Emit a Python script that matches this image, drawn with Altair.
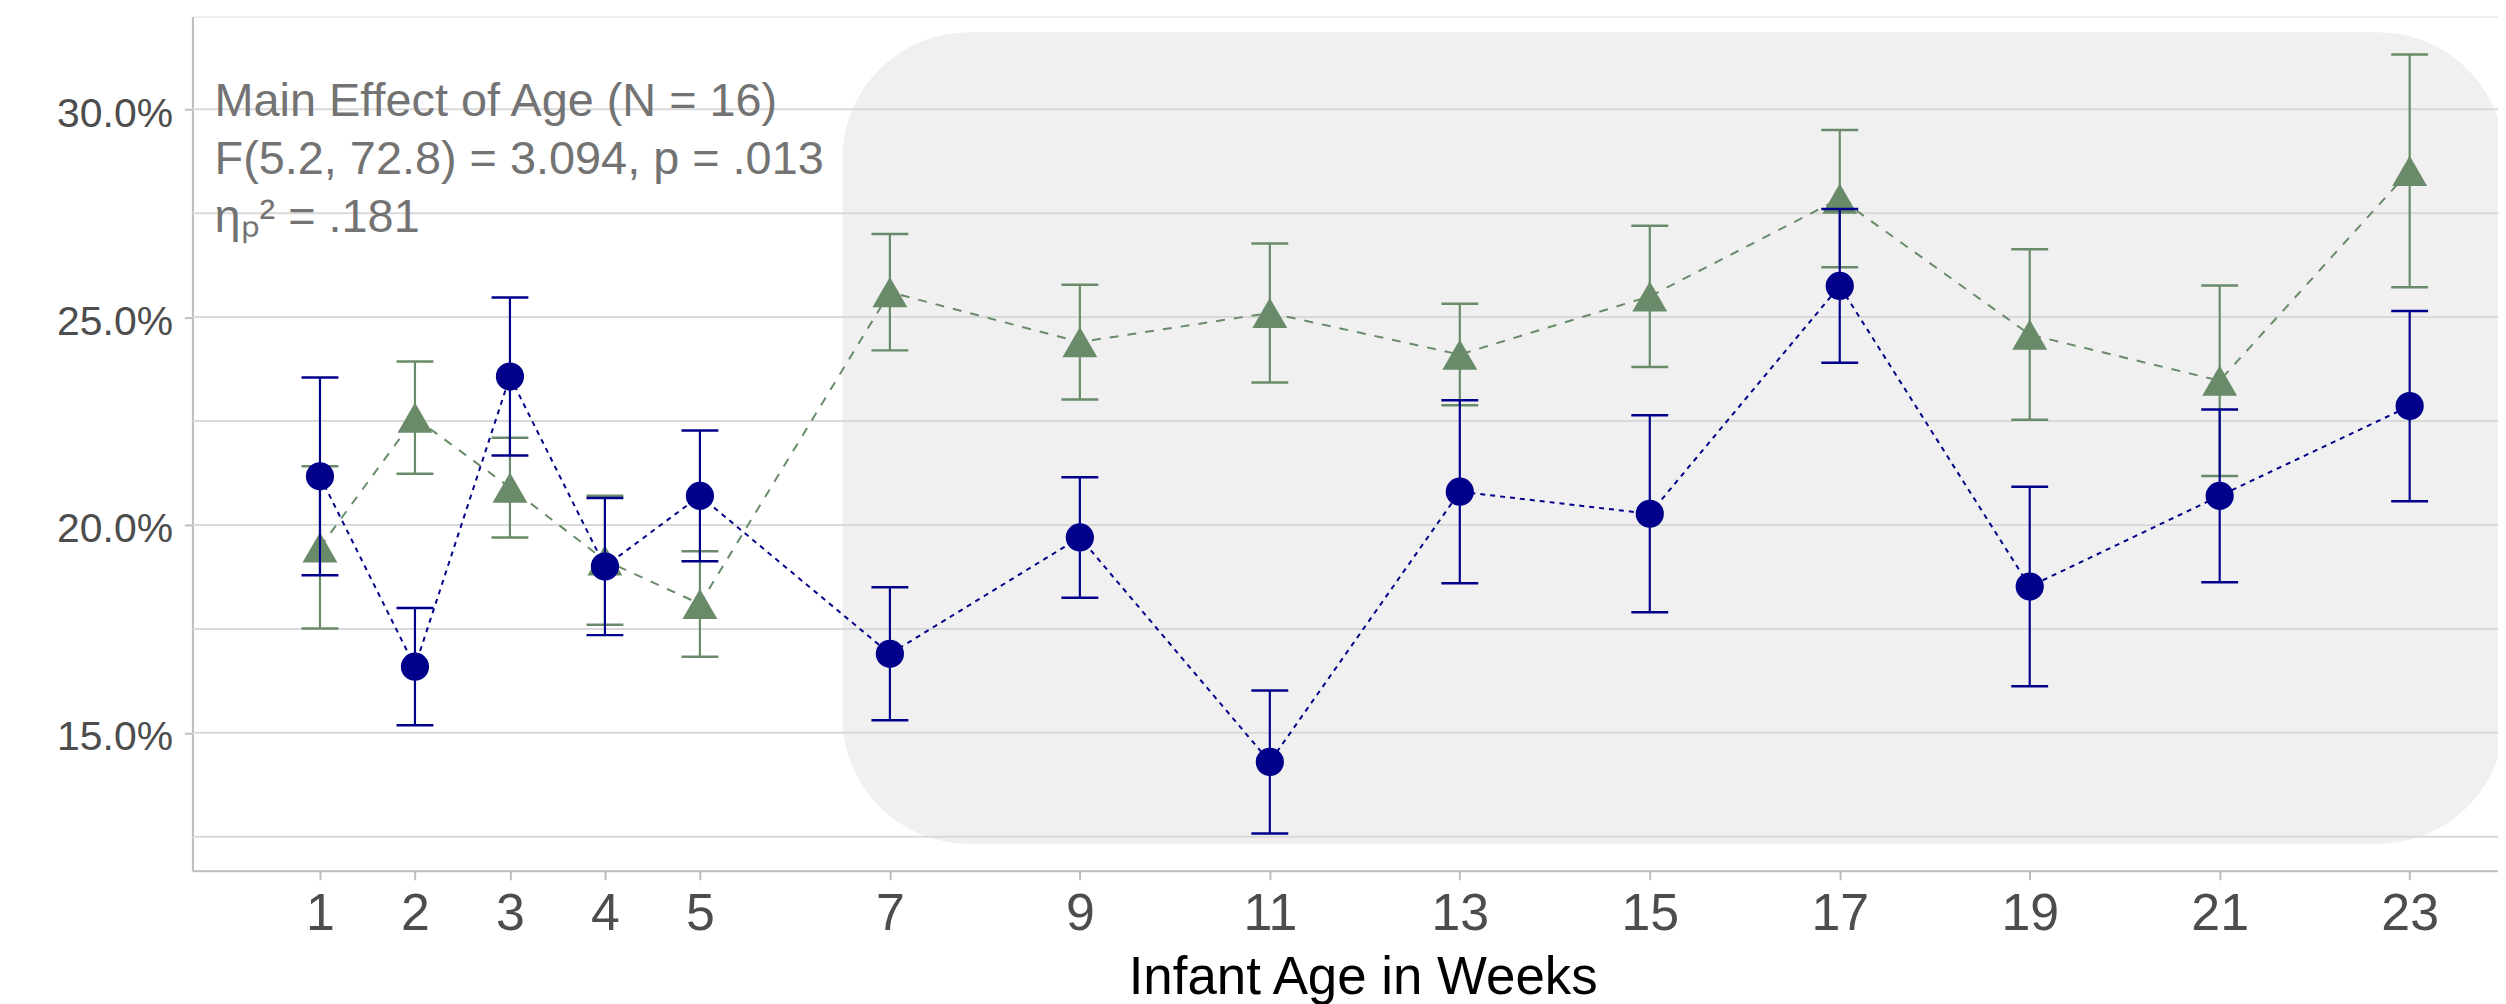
import altair as alt
import pandas as pd

# ---- data ----
weeks = [1, 2, 3, 4, 5, 7, 9, 11, 13, 15, 17, 19, 21, 23]

blue_mean = [21.17, 16.59, 23.57, 19.00, 20.70, 16.90, 19.70, 14.30, 20.80, 20.27, 25.75, 18.52, 20.70, 22.86]
blue_se = [2.38, 1.41, 1.90, 1.65, 1.57, 1.60, 1.45, 1.72, 2.20, 2.37, 1.85, 2.40, 2.08, 2.29]

green_mean = [19.46, 22.58, 20.90, 19.15, 18.10, 25.60, 24.40, 25.10, 24.10, 25.50, 27.85, 24.58, 23.47, 28.52]
green_se = [1.95, 1.35, 1.20, 1.55, 1.27, 1.40, 1.38, 1.67, 1.22, 1.70, 1.65, 2.05, 2.29, 2.80]

series_names = ["Series 1", "Series 2"]

y_tick_values = [15, 20, 25, 30]
grid_values = [12.5, 15, 17.5, 20, 22.5, 25, 27.5, 30]

highlight_weeks = [6.5, 24.0]
highlight_pct = [12.33, 31.85]

annotation_lines = [
    "Main Effect of Age (N = 16)",
    "F(5.2, 72.8) = 3.094, p = .013",
    "\u03b7\u209a\u00b2 = .181",
]
annotation_week = -0.11
annotation_pct = 29.83

x_title = "Infant Age in Weeks"

# ---- tables ----
rows = []
for name, means, ses in ((series_names[0], blue_mean, blue_se), (series_names[1], green_mean, green_se)):
    for w, m, s in zip(weeks, means, ses):
        rows.append({"group": name, "week": w, "pct": m, "lo": m - s, "hi": m + s})
df = pd.DataFrame(rows)

rect_df = pd.DataFrame({"week": [highlight_weeks[0]], "week2": [highlight_weeks[1]],
                        "pct": [highlight_pct[0]], "pct2": [highlight_pct[1]]})
grid_df = pd.DataFrame({"pct": grid_values})

FONT = "Liberation Sans"
BLUE = "#00008B"
GREEN = "#698B69"
AXIS_GRAY = "#bdbdbd"

xscale = alt.Scale(domain=[-0.343, 23.93], nice=False, zero=False)
yscale = alt.Scale(domain=[11.68, 32.23], nice=False, zero=False)

xaxis = alt.Axis(
    values=weeks, format="d", grid=False, title=x_title,
    labelFont=FONT, labelFontSize=52, labelColor="#4d4d4d", labelPadding=9,
    tickSize=9, tickColor=AXIS_GRAY, tickWidth=2,
    domainColor=AXIS_GRAY, domainWidth=2,
    titleFont=FONT, titleFontSize=53, titleFontWeight="normal", titleColor="#000000",
    titleX=1174, titleY=81, titleBaseline="top", titleAlign="center", titleAnchor="start",
)
yaxis = alt.Axis(
    values=y_tick_values, grid=False, title=None,
    labelExpr="format(datum.value, '.1f') + '%'",
    labelFont=FONT, labelFontSize=41, labelColor="#4d4d4d", labelPadding=12, labelOffset=5,
    tickSize=8, tickColor=AXIS_GRAY, tickWidth=2,
    domainColor=AXIS_GRAY, domainWidth=2,
)


def X(field):
    return alt.X(f"{field}:Q", scale=xscale, axis=xaxis, title=x_title)


def Y(field):
    return alt.Y(f"{field}:Q", scale=yscale, axis=yaxis, title=None)


rect = alt.Chart(rect_df).mark_rect(color="#f0f0f0", cornerRadius=127, clip=True).encode(
    x=X("week"), x2="week2", y=Y("pct"), y2="pct2"
)

grid = alt.Chart(grid_df).mark_rule(color="#d9d9d9", strokeWidth=2).encode(y=Y("pct"))


def series(name, color, shape, size, dash):
    d = alt.Chart(df).transform_filter(alt.datum.group == name)
    line = d.mark_line(color=color, strokeWidth=2, strokeDash=dash).encode(x=X("week"), y=Y("pct"), order="week:Q")
    whisk = d.mark_rule(color=color, strokeWidth=2.2).encode(x=X("week"), y=Y("lo"), y2="hi")
    cap_lo = d.mark_tick(color=color, orient="horizontal", size=37, thickness=2.5, opacity=1).encode(x=X("week"), y=Y("lo"))
    cap_hi = d.mark_tick(color=color, orient="horizontal", size=37, thickness=2.5, opacity=1).encode(x=X("week"), y=Y("hi"))
    pts = d.mark_point(color=color, filled=True, shape=shape, size=size, opacity=1).encode(x=X("week"), y=Y("pct"))
    return [line, whisk, cap_lo, cap_hi, pts]


green_layers = series(series_names[1], GREEN, "triangle-up", 1225, [9, 9])
blue_layers = series(series_names[0], BLUE, "circle", 800, [5, 5])

annot = alt.Chart(rect_df).mark_text(
    align="left", baseline="alphabetic", font=FONT, fontSize=47, lineHeight=58, color="#737373"
).encode(
    x=alt.X("ax:Q", scale=xscale, axis=xaxis, title=x_title),
    y=alt.Y("ay:Q", scale=yscale, axis=yaxis, title=None),
    text=alt.value(annotation_lines),
).transform_calculate(ax=str(annotation_week), ay=str(annotation_pct))

chart = alt.layer(rect, grid, *green_layers, *blue_layers, annot).properties(
    width=2313, height=857,
    autosize=alt.AutoSizeParams(type="none"),
    padding={"left": 185, "top": 7, "right": 0, "bottom": 132},
).configure_view(stroke=AXIS_GRAY, strokeWidth=2).configure(background="white")

chart.save("out.html", embed_options={"renderer": "svg", "actions": False})
